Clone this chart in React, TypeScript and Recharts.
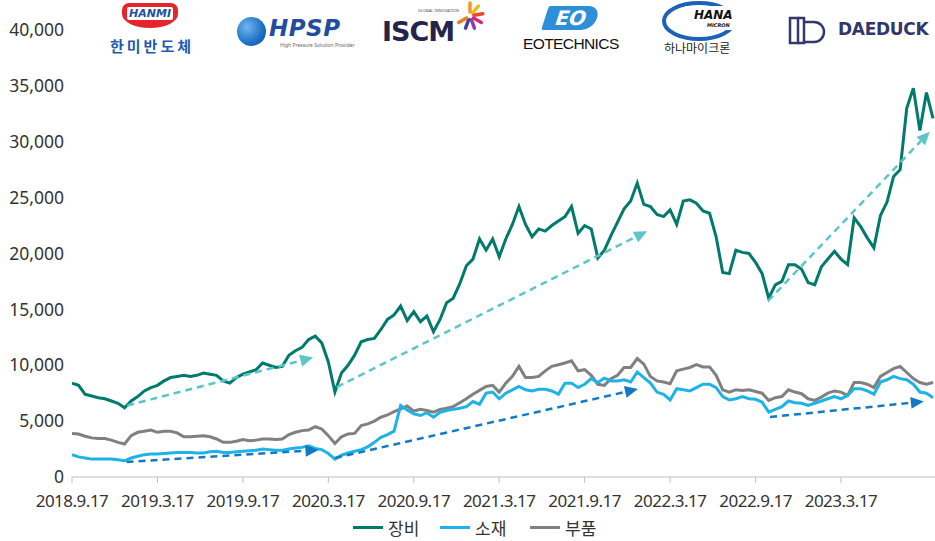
import React from 'react';
import { LineChart, Line, XAxis, YAxis, ReferenceLine } from 'recharts';

// ---- data (biweekly samples starting 2018.9.17) ----
const tickLabels = ['2018.9.17', '2019.3.17', '2019.9.17', '2020.3.17', '2020.9.17', '2021.3.17', '2021.9.17', '2022.3.17', '2022.9.17', '2023.3.17'];
const tickIndex = [0, 13, 26, 39, 52, 65, 78, 91, 104, 117];
const yTicks = [0, 5000, 10000, 15000, 20000, 25000, 30000, 35000, 40000];

const equip = [
  8400, 8200, 7400, 7250, 7100, 7000, 6800, 6600, 6200, 6800,
  7200, 7700, 8000, 8200, 8600, 8900, 9000, 9100, 9000, 9100,
  9300, 9200, 9100, 8600, 8400, 8900, 9200, 9400, 9600, 10200,
  10000, 9800, 9900, 10900, 11300, 11600, 12300, 12600, 12000, 10300,
  7600, 9300, 10000, 10900, 12100, 12300, 12400, 13200, 14100, 14500,
  15300, 14000, 14800, 13900, 14400, 13000, 14100, 15600, 16000, 17300,
  18900, 19500, 21300, 20300, 21300, 19700, 21300, 22600, 24200, 22600,
  21500, 22200, 22000, 22500, 22900, 23300, 24200, 21800, 22500, 22200,
  19600, 20300, 21600, 22800, 24000, 24700, 26300, 24400, 24200, 23500,
  23300, 23900, 22600, 24700, 24800, 24500, 23800, 23600, 21500, 18300,
  18200, 20300, 20100, 20000, 19200, 18200, 16000, 17200, 17500, 19000,
  19000, 18600, 17400, 17200, 18800, 19500, 20200, 19500, 19000, 23200,
  22400, 21400, 20500, 23400, 24600, 26900, 27500, 33000, 34800, 31000,
  34400, 32100,
];

const material = [
  2000, 1800, 1700, 1600, 1600, 1600, 1600, 1550, 1450, 1700,
  1850, 2000, 2050, 2050, 2100, 2150, 2200, 2200, 2200, 2150,
  2150, 2250, 2300, 2200, 2200, 2250, 2300, 2350, 2400, 2500,
  2450, 2400, 2400, 2500, 2600, 2650, 2800, 2550, 2450, 2100,
  1600, 1950, 2150, 2300, 2450, 2700, 3100, 3550, 3800, 4100,
  6400, 6000, 5650, 5500, 5750, 5350, 5800, 5950, 6050, 6150,
  6300, 6750, 6500, 7500, 7600, 7000, 7500, 7800, 8100, 7800,
  7700, 7850, 7850, 7700, 7400, 8400, 8400, 8000, 8300, 8800,
  8450, 8850, 8600, 8600, 8700, 8500, 9400, 8900, 8400, 7600,
  7400, 6900, 7900, 7800, 7700, 8000, 8300, 8300, 8000, 7200,
  6900, 7000, 7200, 7000, 6950, 6700, 5800, 6050, 6300, 6800,
  6650, 6600, 6400, 6600, 6800, 7000, 7200, 7000, 7300, 7900,
  7900, 7700, 7400, 8500, 8700, 9000, 8800, 8700, 8300, 7600,
  7500, 7100,
];

const parts = [
  3900, 3850, 3650, 3500, 3450, 3450, 3300, 3100, 2950, 3700,
  4000, 4100, 4200, 4000, 4100, 4100, 3950, 3600, 3600, 3650,
  3700, 3600, 3400, 3100, 3100, 3200, 3350, 3250, 3300, 3400,
  3400, 3350, 3400, 3800, 4000, 4150, 4200, 4500, 4300, 3700,
  3000, 3600, 3850, 3900, 4600, 4750, 5000, 5350, 5550, 5850,
  6100, 6350, 5900, 6050, 5950, 5800, 6050, 6150, 6300, 6650,
  7000, 7400, 7750, 8100, 8200, 7600, 8400, 9000, 9900, 8900,
  8900, 9000, 9500, 9900, 10050, 10200, 10400, 9500, 9600, 9100,
  8300, 8200, 8800, 9100, 9800, 9800, 10600, 10100, 9000, 8600,
  8500, 8350, 9500, 9650, 9800, 10050, 9850, 9850, 9100, 7800,
  7600, 7800, 7750, 7800, 7650, 7500, 6850, 7100, 7200, 7800,
  7600, 7450, 7000, 6850, 7150, 7500, 7700, 7600, 7300, 8450,
  8450, 8300, 8000, 9000, 9350, 9700, 9900, 9350, 8800, 8450,
  8300, 8450,
];

// trend arrows: [startIndex, startValue, endIndex, endValue]
const equipTrends = [
  [8.4, 6400, 36.7, 10700],
  [40.3, 8050, 87.5, 22000],
  [105.9, 15750, 130.5, 30900],
];
const materialTrends = [
  [8.3, 1350, 37.5, 2420],
  [40.0, 1700, 86.1, 7870],
  [106.2, 5370, 129.6, 6750],
];

const seriesNames = ['장비', '소재', '부품'];
const seriesColors = ['#007A6C', '#1DB3E8', '#808080'];

const data = equip.map((v, i) => ({ i, equip: v, material: material[i], parts: parts[i] }));

const FONT = '"Noto Sans", "Noto Sans CJK KR", sans-serif';

function makeArrow(color: string) {
  return (props: any) => {
    const { x1, y1, x2, y2 } = props;
    if ([x1, y1, x2, y2].some((v) => typeof v !== 'number' || isNaN(v))) return <g />;
    const dx = x2 - x1;
    const dy = y2 - y1;
    const len = Math.hypot(dx, dy) || 1;
    const ux = dx / len;
    const uy = dy / len;
    const L = 13;
    const W = 6;
    const bx = x2 - ux * L;
    const by = y2 - uy * L;
    const pts = `${x2},${y2} ${bx - uy * W},${by + ux * W} ${bx + uy * W},${by - ux * W}`;
    return (
      <g>
        <line x1={x1} y1={y1} x2={bx} y2={by} stroke={color} strokeWidth={2.5} strokeDasharray="7 5" />
        <polygon points={pts} fill={color} />
      </g>
    );
  };
}

const teal = '#5BC5C9';
const blueDash = '#1479C4';

function Logos() {
  const abs = (l: number, t: number): React.CSSProperties => ({ position: 'absolute', left: l, top: t, whiteSpace: 'nowrap', lineHeight: 1 });
  return (
    <div style={{ position: 'absolute', left: 0, top: 0, width: 935, height: 62, pointerEvents: 'none' }}>
      {/* HANMI */}
      <div style={{ ...abs(122, 3), width: 56, height: 25, background: '#E5252C', borderRadius: '7px 7px 28px 28px / 7px 7px 14px 14px', display: 'flex', alignItems: 'flex-start', justifyContent: 'center' }}>
        <div style={{ marginTop: 4, width: 46, height: 13, background: '#fff', borderRadius: 2, color: '#1E4FA3', fontFamily: 'DejaVu Sans, sans-serif', fontWeight: 700, fontStyle: 'italic', fontSize: 11, textAlign: 'center', lineHeight: '13px' }}>HANMI</div>
      </div>
      <div style={{ ...abs(110, 38), color: '#1F5CAD', fontFamily: '"Noto Sans CJK KR"', fontWeight: 700, fontSize: 15, letterSpacing: 3 }}>한미반도체</div>
      {/* HPSP */}
      <div style={{ ...abs(237, 17), width: 29, height: 29, borderRadius: '50%', background: 'radial-gradient(circle at 35% 35%, #6fb6f0, #1c6fc4 60%, #0e4a92)' }} />
      <div style={{ ...abs(269, 17), color: '#1F4E9E', fontFamily: 'DejaVu Sans, sans-serif', fontWeight: 700, fontStyle: 'italic', fontSize: 23, letterSpacing: 0.5 }}>HPSP</div>
      <div style={{ ...abs(280, 43), color: '#666', fontFamily: FONT, fontSize: 5 }}>High Pressure Solution Provider</div>
      {/* ISCM */}
      <div style={{ ...abs(418, 9), color: '#555', fontFamily: FONT, fontSize: 4 }}>GLOBAL INNOVATION</div>
      <div style={{ ...abs(382, 18), color: '#25244C', fontFamily: 'DejaVu Sans, sans-serif', fontWeight: 700, fontSize: 27, letterSpacing: -1 }}>ISCM</div>
      <svg style={{ position: 'absolute', left: 455, top: 1 }} width={30} height={30} viewBox="-15 -15 30 30">
        {['#F39A1E', '#F6B81E', '#E9452F', '#D8297B', '#8A3FA8', '#4B3DA0', '#E67E22'].map((c, k) => {
          const a = (-90 + k * 40) * Math.PI / 180;
          return <line key={k} x1={Math.cos(a) * 4} y1={Math.sin(a) * 4} x2={Math.cos(a) * 13} y2={Math.sin(a) * 13} stroke={c} strokeWidth={3.5} strokeLinecap="round" />;
        })}
      </svg>
      {/* EO TECHNICS */}
      <div style={{ ...abs(545, 6), width: 52, height: 24, background: '#2C8FD8', transform: 'skewX(-18deg)', borderRadius: '2px 12px 12px 2px', color: '#fff', fontFamily: 'DejaVu Sans, sans-serif', fontWeight: 700, fontSize: 20, textAlign: 'center', lineHeight: '24px' }}>EO</div>
      <div style={{ ...abs(523, 36), color: '#111', fontFamily: '"Liberation Sans", sans-serif', fontSize: 15.5, letterSpacing: -0.6 }}>EOTECHNICS</div>
      {/* HANA MICRON */}
      <svg style={{ position: 'absolute', left: 661, top: 1 }} width={76} height={42}>
        <ellipse cx={38} cy={20} rx={35} ry={18} fill="none" stroke="#1C62B8" strokeWidth={4} />
        <rect x={24} y={5} width={54} height={24} fill="#fff" />
      </svg>
      <div style={{ ...abs(694, 9), color: '#111', fontFamily: 'DejaVu Sans, sans-serif', fontWeight: 700, fontStyle: 'italic', fontSize: 12 }}>HANA</div>
      <div style={{ ...abs(707, 23), color: '#111', fontFamily: 'DejaVu Sans, sans-serif', fontWeight: 700, fontStyle: 'italic', fontSize: 5 }}>MICRON</div>
      <div style={{ ...abs(664, 42), color: '#222', fontFamily: '"Noto Sans CJK KR"', fontSize: 12 }}>하나마이크론</div>
      {/* DAEDUCK */}
      <svg style={{ position: 'absolute', left: 788, top: 16 }} width={40} height={29} viewBox="0 0 40 29">
        <g fill="none" stroke="#34386A" strokeWidth={2.5}>
          <rect x={2} y={2} width={8} height={25} />
          <path d="M10 2 h6 v25 h-6" />
          <path d="M16 6 h10 a10 10 0 0 1 0 20 h-10" />
        </g>
      </svg>
      <div style={{ ...abs(838, 21), color: '#323769', fontFamily: 'DejaVu Sans, sans-serif', fontWeight: 700, fontSize: 17, letterSpacing: -0.3 }}>DAEDUCK</div>
    </div>
  );
}

function LegendBox() {
  const items = [
    { name: seriesNames[0], color: seriesColors[0], left: 353 },
    { name: seriesNames[1], color: seriesColors[1], left: 440 },
    { name: seriesNames[2], color: seriesColors[2], left: 530 },
  ];
  return (
    <div style={{ position: 'absolute', left: 0, top: 515, width: 935, height: 24 }}>
      {items.map((it) => (
        <div key={it.name} style={{ position: 'absolute', left: it.left, top: 0, display: 'flex', alignItems: 'center', height: 24 }}>
          <div style={{ width: 30, height: 3, background: it.color }} />
          <span style={{ marginLeft: 5, fontFamily: '"Noto Sans CJK KR"', fontSize: 17, color: '#333' }}>{it.name}</span>
        </div>
      ))}
    </div>
  );
}

export default function App() {
  return (
    <div style={{ position: 'absolute', left: 0, top: 0, width: 935, height: 541, background: '#fff', overflow: 'hidden' }}>
      <LineChart width={935} height={541} data={data} margin={{ top: 30, right: 0, bottom: 34, left: 0 }}>
        <XAxis
          dataKey="i"
          type="number"
          domain={[0, 131.3]}
          ticks={tickIndex}
          tickFormatter={(v: number) => tickLabels[tickIndex.indexOf(v)] ?? ''}
          interval={0}
          height={30}
          stroke="#BFBFBF"
          tickSize={6}
          tickMargin={12}
          tick={{ fill: '#333', fontSize: 17, fontFamily: FONT, letterSpacing: -0.5 }}
          allowDataOverflow
        />
        <YAxis
          domain={[0, 40000]}
          ticks={yTicks}
          width={72}
          axisLine={false}
          tickLine={false}
          interval={0}
          tickFormatter={(v: number) => v.toLocaleString('en-US')}
          tick={{ fill: '#333', fontSize: 17.5, fontFamily: FONT }}
        />
        <Line dataKey="parts" name={seriesNames[2]} stroke={seriesColors[2]} strokeWidth={3} dot={false} isAnimationActive={false} />
        <Line dataKey="material" name={seriesNames[1]} stroke={seriesColors[1]} strokeWidth={3} dot={false} isAnimationActive={false} />
        <Line dataKey="equip" name={seriesNames[0]} stroke={seriesColors[0]} strokeWidth={3} dot={false} isAnimationActive={false} />
        {equipTrends.map((t, k) => (
          <ReferenceLine key={'e' + k} segment={[{ x: t[0], y: t[1] }, { x: t[2], y: t[3] }]} ifOverflow="visible" shape={makeArrow(teal)} />
        ))}
        {materialTrends.map((t, k) => (
          <ReferenceLine key={'m' + k} segment={[{ x: t[0], y: t[1] }, { x: t[2], y: t[3] }]} ifOverflow="visible" shape={makeArrow(blueDash)} />
        ))}
      </LineChart>
      <Logos />
      <LegendBox />
    </div>
  );
}
